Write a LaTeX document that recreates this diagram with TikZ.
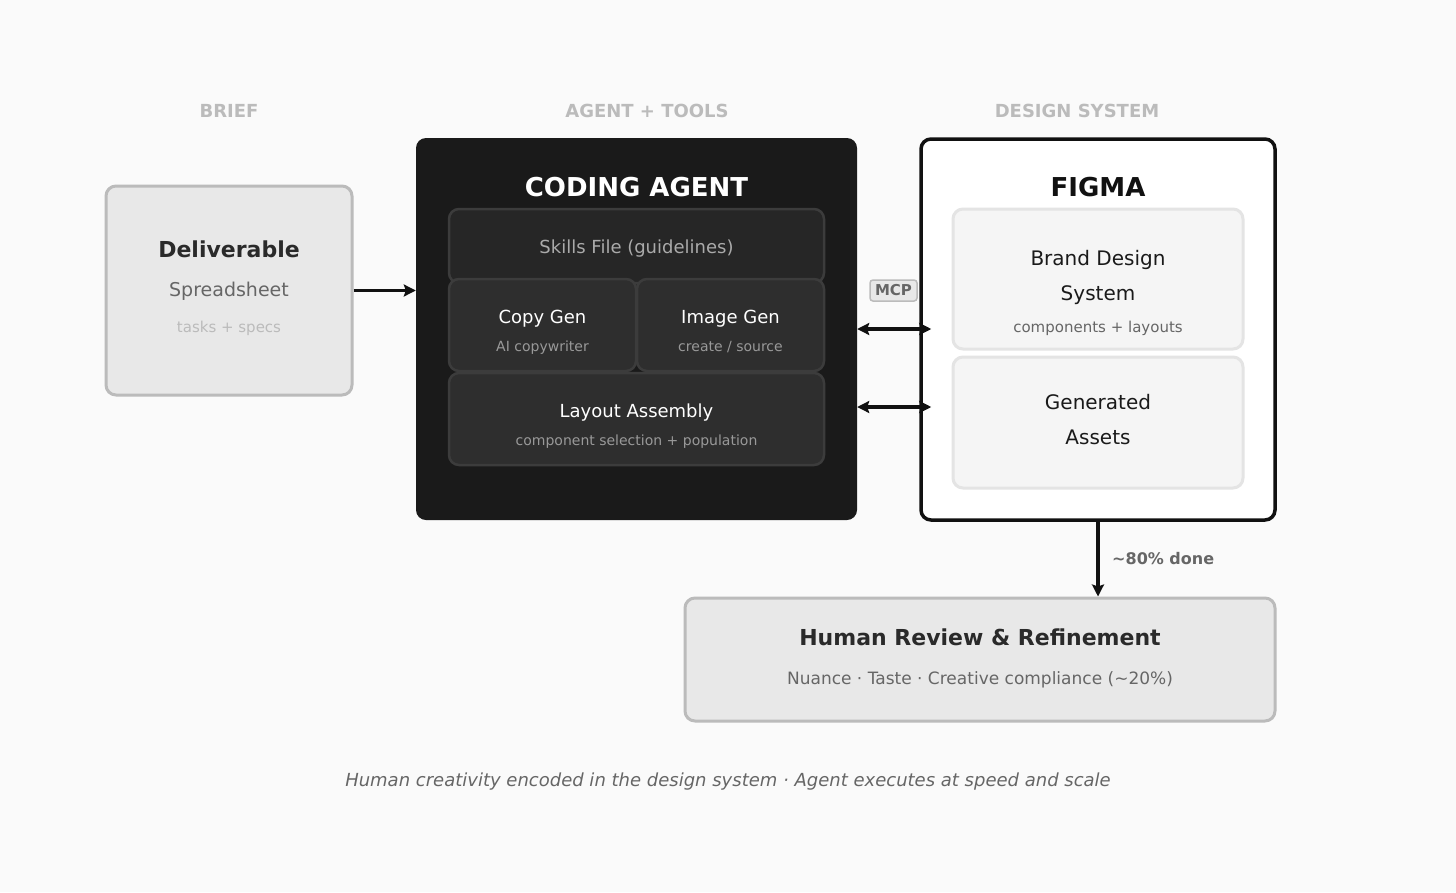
\documentclass[tikz,border=0pt]{standalone}
\usepackage{fontspec}
\setmainfont{DejaVu Sans}
\usetikzlibrary{arrows.meta}

\definecolor{pagebg}{HTML}{FAFAFA}
\definecolor{ink}{HTML}{111111}
\definecolor{softfill}{HTML}{E8E8E8}
\definecolor{softline}{HTML}{BBBBBB}
\definecolor{darktext}{HTML}{2A2A2A}
\definecolor{midtext}{HTML}{666666}
\definecolor{agentfill}{HTML}{1A1A1A}
\definecolor{skillfill}{HTML}{262626}
\definecolor{toolfill}{HTML}{2E2E2E}
\definecolor{toolline}{HTML}{3C3C3C}
\definecolor{toolsub}{HTML}{999999}
\definecolor{skilltext}{HTML}{AAAAAA}
\definecolor{figfill}{HTML}{F5F5F5}
\definecolor{figline}{HTML}{E4E4E4}

\newcommand{\fsz}[1]{\fontsize{#1}{#1}\selectfont}

\begin{document}
\begin{tikzpicture} [
            x=1pt, y=-1pt,
            box/.style      = { rectangle, rounded corners=10pt, inner sep=0pt },
            softbox/.style  = { box, draw=softline, fill=softfill, line width=3pt },
            agentbox/.style = { box, fill=agentfill },
            toolbox/.style  = { box, draw=toolline, fill=toolfill, line width=2.5pt },
            figbox/.style   = { box, draw=ink, fill=white, line width=3.5pt },
            assetbox/.style = { box, draw=figline, fill=figfill, line width=3pt },
            txt/.style      = { inner sep=0pt, text height=1.5em, text depth=0pt },
            header/.style   = { txt, text=softline, font=\fsz{18}\bfseries },
            line/.style     = { draw=ink, line width=3.2pt,
                                -{Stealth[length=12pt, width=12pt, inset=2pt]} },
            dline/.style    = { line, {Stealth[length=12pt, width=12pt, inset=2pt]}-{Stealth[length=12pt, width=12pt, inset=2pt]} },
          ]
  \fill [pagebg] (0,0) rectangle (1456,892);
  \useasboundingbox (0,0) rectangle (1456,892);

  % column headers
  \node (hdrbrief)  [header] at (229,110)  {BRIEF};
  \node (hdragent)  [header] at (647,110)  {AGENT + TOOLS};
  \node (hdrdesign) [header] at (1077,110) {DESIGN SYSTEM};

  % brief
  \node (deliv) [softbox, minimum width=246pt, minimum height=209pt] at (229,290.5) {};
  \node (delivtitle) [txt, text=darktext, font=\fsz{22}\bfseries] at (229,250) {Deliverable};
  \node (delivsub)   [txt, text=midtext, font=\fsz{19}] at (229,289) {Spreadsheet};
  \node (delivnote)  [txt, text=softline, font=\fsz{15}] at (229,325) {tasks + specs};

  % coding agent
  \node (agent) [agentbox, minimum width=441pt, minimum height=382pt] at (636.5,329) {};
  \node (agenttitle) [txt, text=white, font=\fsz{26}\bfseries] at (636.5,189) {CODING AGENT};
  \node (skills)   [toolbox, fill=skillfill, minimum width=375pt, minimum height=74pt] at (636.5,246) {};
  \node (copygen)  [toolbox, minimum width=187pt, minimum height=92pt] at (542.5,325) {};
  \node (imagegen) [toolbox, minimum width=187pt, minimum height=92pt] at (730.5,325) {};
  \node (layout)   [toolbox, minimum width=375pt, minimum height=92pt] at (636.5,419) {};
  \node (skillstxt) [txt, text=skilltext, font=\fsz{18}] at (636.5,246) {Skills File (guidelines)};
  \node (copyt)   [txt, text=white, font=\fsz{18}] at (542.5,316) {Copy Gen};
  \node (copys)   [txt, text=toolsub, font=\fsz{14}] at (542.5,344) {AI copywriter};
  \node (imaget)  [txt, text=white, font=\fsz{18}] at (730.5,316) {Image Gen};
  \node (images)  [txt, text=toolsub, font=\fsz{14}] at (730.5,344) {create / source};
  \node (layoutt) [txt, text=white, font=\fsz{18}] at (636.5,410) {Layout Assembly};
  \node (layouts) [txt, text=toolsub, font=\fsz{14}] at (636.5,438) {component selection + population};

  % figma
  \node (figma) [figbox, minimum width=354pt, minimum height=381pt] at (1098,329.5) {};
  \node (figmatitle) [txt, text=ink, font=\fsz{26}\bfseries] at (1098,189) {FIGMA};
  \node (brand)  [assetbox, minimum width=290pt, minimum height=140pt] at (1098,279) {};
  \node (assets) [assetbox, minimum width=290pt, minimum height=131pt] at (1098,422.5) {};
  \node (brandt1) [txt, text=agentfill, font=\fsz{20}] at (1098,258) {Brand Design};
  \node (brandt2) [txt, text=agentfill, font=\fsz{20}] at (1098,293) {System};
  \node (brands)  [txt, text=midtext, font=\fsz{15}] at (1098,325) {components + layouts};
  \node (assetst1) [txt, text=agentfill, font=\fsz{20}] at (1098,402) {Generated};
  \node (assetst2) [txt, text=agentfill, font=\fsz{20}] at (1098,437) {Assets};

  % human review
  \node (human) [softbox, minimum width=590pt, minimum height=123pt] at (980,659.5) {};
  \node (humant) [txt, text=darktext, font=\fsz{22}\bfseries] at (980,638) {Human Review \& Refinement};
  \node (humans) [txt, text=midtext, font=\fsz{17}] at (980,677) {Nuance · Taste · Creative compliance (\textasciitilde20\%)};

  % connectors
  \draw [line] (deliv.east) -- (deliv.east -| agent.west);
  \draw [dline, shorten >=-12pt] (agent.east) -- (agent.east -| figma.west);
  \draw [dline, shorten >=-12pt] ([yshift=-78pt]agent.east) -- ([yshift=-78pt]agent.east -| figma.west);
  \node (mcp) [box, rounded corners=3pt, draw=softline, fill=softfill, line width=1.5pt,
               minimum width=47pt, minimum height=21pt, text=midtext, font=\fsz{15}\bfseries]
        at (893.5,290.5) {MCP};
  \draw [line] (figma.south) -- (figma.south |- human.north);
  \node (done) [txt, anchor=west, text=midtext, font=\fsz{16}\bfseries] at (1112,557) {\textasciitilde80\% done};

  % caption
  \node (caption) [txt, text=midtext, font=\fsz{18}\itshape] at (728,779)
        {Human creativity encoded in the design system · Agent executes at speed and scale};
\end{tikzpicture}
\end{document}
